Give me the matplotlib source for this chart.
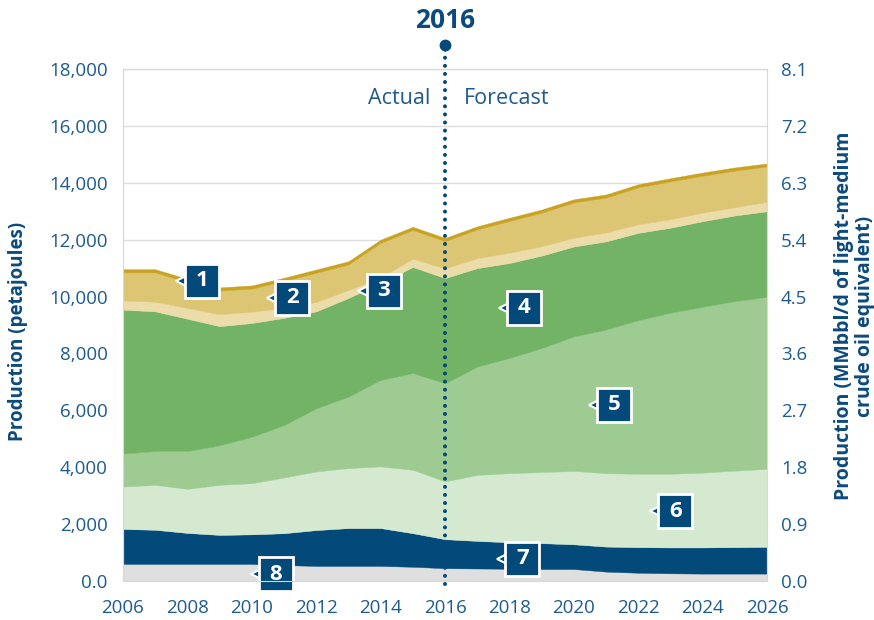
import matplotlib
matplotlib.use("Agg")
import matplotlib.pyplot as plt
import matplotlib.transforms as mtransforms

plt.rcParams['font.family'] = ['Open Sans', 'DejaVu Sans']

years = list(range(2006, 2027))

# stacked layers, bottom to top (petajoules)
layer8 = [600, 600, 600, 600, 600, 560, 530, 530, 530, 500, 450, 440, 430, 420, 420, 330, 290, 270, 260, 260, 260]
layer7 = [1230, 1200, 1090, 1020, 1040, 1120, 1260, 1330, 1330, 1180, 1020, 970, 930, 910, 870, 880, 900, 910, 920, 930, 940]
layer6 = [1490, 1580, 1550, 1760, 1800, 1960, 2060, 2110, 2170, 2230, 2030, 2320, 2430, 2500, 2580, 2580, 2580, 2590, 2630, 2690, 2740]
layer5 = [1160, 1190, 1330, 1390, 1630, 1840, 2220, 2510, 3040, 3400, 3450, 3810, 4050, 4360, 4730, 5050, 5400, 5660, 5830, 5960, 6050]
layer4 = [5060, 4910, 4650, 4190, 4000, 3770, 3410, 3470, 3400, 3730, 3700, 3460, 3340, 3250, 3160, 3100, 3070, 2990, 3010, 3010, 3010]
layer3 = [320, 340, 380, 420, 400, 350, 330, 280, 200, 290, 340, 350, 360, 330, 310, 310, 300, 300, 300, 290, 330]
layer2 = [990, 1030, 910, 830, 810, 950, 1030, 900, 1220, 1010, 960, 1010, 1120, 1180, 1240, 1230, 1300, 1330, 1300, 1290, 1240]
layer1 = [110, 110, 110, 110, 110, 110, 110, 110, 110, 110, 110, 110, 110, 110, 110, 110, 110, 110, 110, 110, 110]

colors = ['#e0dfdf', '#034a7a', '#d5e8d0', '#9dcb92', '#72b365', '#ebdcaa', '#dcc674', '#c9a21f']

# callout boxes: label, year, petajoules
callouts = [('1', 2008.45, 10550), ('2', 2011.25, 9950), ('3', 2014.1, 10200),
            ('4', 2018.45, 9600), ('5', 2021.25, 6200), ('6', 2023.15, 2450),
            ('7', 2018.4, 790), ('8', 2010.75, 230)]

txt = '#1f5b8e'
bold = '#0b4a7c'

fig = plt.figure(figsize=(8.74, 6.2), dpi=100)
ax = fig.add_axes([0.1407, 0.0629, 0.737, 0.8258])

ax.stackplot(years, layer8, layer7, layer6, layer5, layer4, layer3, layer2, layer1,
             colors=colors, edgecolor='face', linewidth=0.3, zorder=2)

ax.set_xlim(2006, 2026)
ax.set_ylim(0, 18000)
ax.set_yticks(range(0, 18001, 2000))
ax.set_yticklabels(['0.0'] + ['{:,}'.format(v) for v in range(2000, 18001, 2000)])
ax.set_xticks(range(2006, 2027, 2))
ax.grid(axis='y', color='#dddddd', lw=1, zorder=0)
ax.tick_params(length=0, labelsize=13.5, labelcolor=txt)
ax.tick_params(axis='y', pad=11)
ax.tick_params(axis='x', pad=13)
for s in ax.spines.values():
    s.set_color('#d9d9d9')

ax2 = ax.twinx()
ax2.set_ylim(0, 8.1)
ax2.set_yticks([i * 0.9 for i in range(10)])
ax2.set_yticklabels(['%.1f' % (i * 0.9) for i in range(10)])
ax2.tick_params(length=0, labelsize=13.5, labelcolor=txt, pad=10)
for s in ax2.spines.values():
    s.set_color('#d9d9d9')

# 2016 divider
ax.plot([2016, 2016], [-100, 18800], color='#034a7a', lw=2.9, linestyle=(0, (0.01, 2)),
        dash_capstyle='round', clip_on=False, zorder=5)
ax.plot([2016], [18850], marker='o', ms=7.5, color='#034a7a', clip_on=False, zorder=5)
ax.text(2016, 19720, '2016', ha='center', va='center', fontsize=19, fontweight='bold',
        color=bold, clip_on=False)
ax.text(2015.55, 16950, 'Actual', ha='right', va='center', fontsize=15.5, color=txt)
ax.text(2016.6, 16950, 'Forecast', ha='left', va='center', fontsize=15.5, color=txt)

# numbered callouts
tri = mtransforms.offset_copy(ax.transData, fig=fig, x=-14, y=0, units='points')
for lab, x, y in callouts:
    ax.plot([x], [y], marker='<', ms=9, mfc='#034a7a', mec='white', mew=1.5,
            transform=tri, zorder=6, clip_on=False)
    ax.plot([x], [y], marker='s', ms=25, mfc='#034a7a', mec='white', mew=2,
            zorder=7, clip_on=False)
    ax.text(x, y, lab, ha='center', va='center', fontsize=16, fontweight='bold',
            color='white', zorder=8)

fig.text(0.021, 0.465, 'Production (petajoules)', rotation=90, ha='center', va='center',
         fontsize=13.5, fontweight='bold', color=bold)
fig.text(0.978, 0.49, 'Production (MMbbl/d of light-medium\ncrude oil equivalent)',
         rotation=90, ha='center', va='center', fontsize=14, fontweight='bold',
         color=bold, linespacing=1.05)

fig.savefig('out.png', dpi=100)
